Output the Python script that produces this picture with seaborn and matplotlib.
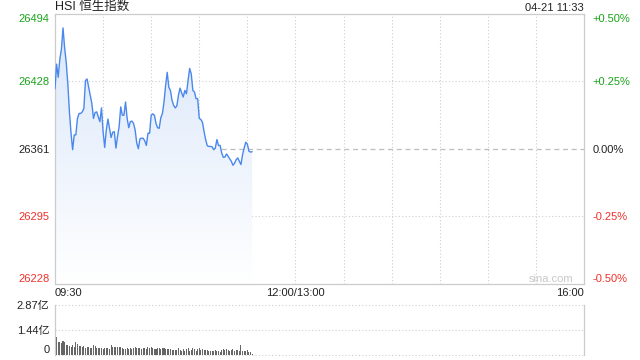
import numpy as np
import pandas as pd
import matplotlib
matplotlib.use("Agg")
import matplotlib.pyplot as plt
import seaborn as sns

# ---------------- data ----------------
prev_close = 26361
minutes = list(range(124))  # minutes after 09:30 (09:30 .. 11:33)
prices = [
    26420.3, 26444.6, 26431.7, 26449.5, 26459.2, 26480.3, 26460.9, 26446.3, 26425.2, 26397.6,
    26376.5, 26360.3, 26374.9, 26374.9, 26391.1, 26396.0, 26396.0, 26397.6, 26400.8, 26428.4,
    26430.0, 26421.9, 26413.8, 26405.7, 26391.1, 26396.9, 26397.6, 26392.7, 26387.9, 26401.5,
    26378.1, 26362.5, 26379.7, 26390.5, 26381.4, 26372.3, 26377.5, 26378.1, 26361.9, 26373.3,
    26383.0, 26402.5, 26394.3, 26394.3, 26407.3, 26391.1, 26382.0, 26387.9, 26388.5, 26386.2,
    26379.7, 26366.8, 26361.3, 26371.0, 26371.6, 26371.6, 26369.0, 26364.5, 26376.5, 26376.5,
    26394.3, 26395.6, 26394.3, 26386.2, 26382.0, 26381.4, 26391.8, 26396.0, 26407.3, 26423.6,
    26436.5, 26421.9, 26418.7, 26409.0, 26404.1, 26401.5, 26403.4, 26413.8, 26421.0, 26416.4,
    26412.2, 26418.7, 26415.4, 26428.4, 26440.4, 26434.9, 26418.7, 26417.1, 26410.6, 26410.6,
    26391.1, 26390.1, 26387.2, 26378.1, 26370.0, 26364.2, 26363.5, 26363.5, 26363.2, 26360.3,
    26361.9, 26370.3, 26364.5, 26364.5, 26357.0, 26352.8, 26353.1, 26356.1, 26353.8, 26351.2,
    26348.9, 26345.0, 26347.0, 26350.5, 26352.2, 26348.9, 26345.7, 26355.4, 26361.9, 26367.7,
    26365.8, 26358.7, 26358.0, 26358.3,
]
volumes = [  # 亿
    2.87, 1.05, 0.77, 0.77, 0.71, 0.80, 0.77, 0.57, 0.57, 0.54,
    0.48, 0.57, 0.48, 0.73, 0.65, 0.52, 0.52, 0.48, 0.52, 0.42,
    0.48, 0.46, 0.42, 0.42, 0.57, 0.54, 0.42, 0.42, 0.38, 0.38,
    0.34, 0.42, 0.38, 0.38, 0.34, 0.57, 0.44, 0.46, 0.44, 0.48,
    0.48, 0.44, 0.38, 0.34, 0.34, 0.38, 0.34, 0.42, 0.34, 0.38,
    0.44, 0.42, 0.42, 0.38, 0.34, 0.42, 0.38, 0.34, 0.44, 0.42,
    0.44, 0.38, 0.34, 0.34, 0.38, 0.42, 0.33, 0.38, 0.42, 0.34,
    0.34, 0.34, 0.33, 0.27, 0.29, 0.29, 0.29, 0.38, 0.29, 0.25,
    0.33, 0.25, 0.34, 0.38, 0.25, 0.29, 0.42, 0.34, 0.25, 0.34,
    0.38, 0.29, 0.34, 0.29, 0.27, 0.29, 0.25, 0.23, 0.23, 0.25,
    0.29, 0.23, 0.25, 0.19, 0.29, 0.34, 0.29, 0.34, 0.29, 0.23,
    0.29, 0.34, 0.23, 0.29, 0.29, 0.25, 0.57, 0.25, 0.23, 0.23,
    0.29, 0.15, 0.19, 0.08,
]
price_ticks = [26228, 26295, 26361, 26428, 26494]
price_tick_labels = ["26228", "26295", "26361", "26428", "26494"]
pct_tick_labels = ["-0.50%", "-0.25%", "0.00%", "+0.25%", "+0.50%"]
tick_colors = ["#f0302a", "#f0302a", "#222222", "#1aa31a", "#1aa31a"]
vol_ticks = [0, 1.44, 2.87]
vol_tick_labels = ["0", "1.44亿", "2.87亿"]
time_tick_pos = [0, 150, 330]
time_tick_labels = ["09:30", "12:00/13:00", "16:00"]
title = "HSI 恒生指数"
stamp = "04-21 11:33"

# ---------------- style ----------------
sns.set_theme(style="white")
plt.rcParams["font.family"] = ["Liberation Sans", "Noto Sans CJK SC", "DejaVu Sans"]

fig = plt.figure(figsize=(6.4, 3.6), dpi=100)
W, H = 640, 360
L, R = 55, 584
ax = fig.add_axes([L / W, 1 - 284 / H, (R - L) / W, (284 - 14) / H])
axv = fig.add_axes([L / W, 1 - 355 / H, (R - L) / W, (355 - 305) / H])

df = pd.DataFrame({"t": minutes, "p": prices})
ymin, ymax = price_ticks[0], price_ticks[-1]
ax.set_xlim(0, 330)
ax.set_ylim(ymin, ymax)

# gradient fill under the line
poly = ax.fill_between(df["t"], df["p"], ymin, color="none", lw=0)
grad = np.linspace(1, 0, 256).reshape(-1, 1)
top_c = np.array([0.855, 0.906, 0.980])
bot_c = np.array([1.0, 1.0, 1.0])
img = top_c * grad[..., None] + bot_c * (1 - grad[..., None])
img = img.reshape(256, 1, 3)
im = ax.imshow(img, extent=[0, 330, ymin, ymax - 10], aspect="auto", origin="upper", zorder=1)
im.set_clip_path(poly.get_paths()[0], transform=ax.transData)

# grid lines
for t in range(30, 330, 30):
    ax.axvline(t, color="#cfcfcf", lw=0.8, ls=(0, (1, 2)), zorder=0.5)
for v in [price_ticks[1], price_ticks[3]]:
    ax.axhline(v, color="#cfcfcf", lw=0.8, ls=(0, (1, 2)), zorder=0.5)
ax.axhline(prev_close, color="#bdbdbd", lw=0.9, ls=(0, (4, 3)), zorder=0.5)

sns.lineplot(data=df, x="t", y="p", ax=ax, color="#4a88ee", lw=1.0, zorder=3)

ax.set_xlabel("")
ax.set_ylabel("")
ax.set_xticks([])
ax.set_yticks(price_ticks)
ax.set_yticklabels(price_tick_labels, fontsize=8)
for lab, c in zip(ax.get_yticklabels(), tick_colors):
    lab.set_color(c)
ax.get_yticklabels()[0].set_va("bottom")
ax.get_yticklabels()[-1].set_va("top")
ax.tick_params(axis="y", length=0, pad=4)
for s in ax.spines.values():
    s.set_color("#cccccc")
    s.set_linewidth(0.9)

ax2 = ax.twinx()
ax2.set_ylim(ymin, ymax)
ax2.set_yticks(price_ticks)
ax2.set_yticklabels(pct_tick_labels, fontsize=8)
for lab, c in zip(ax2.get_yticklabels(), tick_colors):
    lab.set_color(c)
ax2.get_yticklabels()[0].set_va("bottom")
ax2.get_yticklabels()[-1].set_va("top")
ax2.tick_params(axis="y", length=0, pad=6)
for s in ax2.spines.values():
    s.set_visible(False)

# time labels
for pos, lab, ha in zip(time_tick_pos, time_tick_labels, ["left", "center", "right"]):
    ax.text(pos, -0.035, lab, transform=ax.get_xaxis_transform(), ha=ha, va="center",
            fontsize=8, color="#222222")

ax.text(0.979, 0.02, "sina.com", transform=ax.transAxes, ha="right", va="center",
        fontsize=8, color="#c8c8c8")

fig.text(L / W, 1 - 7 / H, title, ha="left", va="center", fontsize=9, color="#222222")
fig.text(R / W, 1 - 8 / H, stamp, ha="right", va="center", fontsize=8, color="#222222")

# volume
axv.set_xlim(0, 330)
axv.set_ylim(0, vol_ticks[-1])
for v in vol_ticks:
    axv.axhline(v, color="#cfcfcf", lw=0.8, ls=(0, (1, 2)), zorder=0.5, clip_on=False)
axv.bar(minutes, volumes, width=0.65, color="#666666", align="center", lw=0, zorder=2)
axv.set_xticks([])
axv.set_yticks(vol_ticks)
axv.set_yticklabels(vol_tick_labels, fontsize=8, color="#222222")
axv.get_yticklabels()[0].set_va("bottom")
axv.tick_params(axis="y", length=0, pad=4)
for k, s in axv.spines.items():
    s.set_color("#cccccc")
    s.set_linewidth(0.9)
axv.spines["top"].set_visible(False)
axv.spines["bottom"].set_visible(False)

fig.savefig("out.png", dpi=100)
